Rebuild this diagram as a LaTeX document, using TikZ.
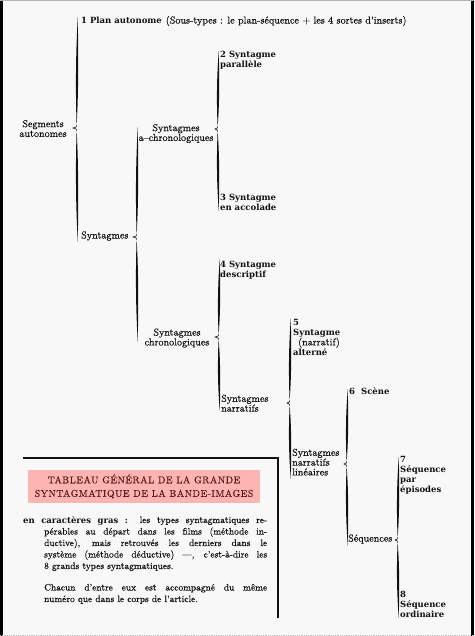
\documentclass[tikz,border=0pt]{standalone}
\usepackage{fontspec}
\usetikzlibrary{calc}
\setmainfont{lmroman10-regular.otf}[FakeBold=0.35]
\newfontfamily\slabf{DejaVu Serif}
\definecolor{bgc}{HTML}{F8F8F8}
\definecolor{pinkc}{HTML}{FFB4B4}
\definecolor{titlec}{HTML}{5A1A1A}
\definecolor{inkc}{HTML}{111111}
\newcommand\regtxt{\rmfamily\mdseries\fontsize{10.1}{9.8}\selectfont}
\newcommand\hdtxt{\slabf\bfseries\fontsize{8.5}{10}\selectfont}
\newcommand\engbrace[3]{%
 \fill[inkc] let \p1=(#1), \p2=(#2), \p3=(#3),
   \p4=([yshift=2.5pt]#2), \p5=([yshift=-2.5pt]#2) in
   ({\x1+0.8pt},\y1) .. controls ({\x1-1.4pt},{\y1+0.35*(\y4-(\y1))}) and ({\x1-1.4pt},{\y1+0.7*(\y4-(\y1))}) .. ({\x1-0.4pt},\y4)
   .. controls ({\x1+1.6pt},{\y1+0.7*(\y4-(\y1))}) and ({\x1+1.3pt},{\y1+0.35*(\y4-(\y1))}) .. ({\x1+0.8pt},\y1) -- cycle
   ({\x1-0.4pt},\y5) .. controls ({\x1-1.4pt},{\y5+0.3*(\y3-(\y5))}) and ({\x1-1.4pt},{\y5+0.65*(\y3-(\y5))}) .. ({\x1+0.8pt},\y3)
   .. controls ({\x1+1.3pt},{\y5+0.65*(\y3-(\y5))}) and ({\x1+1.6pt},{\y5+0.3*(\y3-(\y5))}) .. ({\x1-0.4pt},\y5) -- cycle;
 \draw[inkc,line width=0.6pt] let \p1=(#1), \p2=(#2), \p4=([yshift=2.5pt]#2), \p5=([yshift=-2.5pt]#2) in
   ({\x1-0.4pt},\y4) .. controls ({\x1-0.4pt},{\y2+1pt}) .. (\x2,\y2) .. controls ({\x1-0.4pt},{\y2-1pt}) .. ({\x1-0.4pt},\y5);
}
\tikzset{
  reg/.style={inner sep=0pt, text=inkc, font=\regtxt, align=left},
  regc/.style={reg, align=center},
  hd/.style={inner sep=0pt, text=inkc, font=\hdtxt, align=left},
}
\begin{document}
\begin{tikzpicture}[x=1pt,y=-1pt]
\useasboundingbox (0,0) rectangle (474,636);
\fill[bgc] (0,0) rectangle (474,636);
\fill[black] (0,0) rectangle (2.5,636);
\fill[black] (471,0) rectangle (474,636);
\fill[gray!60] (0,0) rectangle (474,1);
\draw[gray!50,densely dotted,line width=0.8pt] (0,635) -- (474,635);

% brace coordinates
\coordinate (b1t) at (77,17);  \coordinate (b1m) at (73,128); \coordinate (b1b) at (77,242);
\coordinate (b2t) at (137,127); \coordinate (b2m) at (133,237); \coordinate (b2b) at (137,342);
\coordinate (b3t) at (218,51); \coordinate (b3m) at (215,129); \coordinate (b3b) at (218,211);
\coordinate (b4t) at (219,259); \coordinate (b4m) at (215,337); \coordinate (b4b) at (219,411);
\coordinate (b5t) at (290,318); \coordinate (b5m) at (287,403); \coordinate (b5b) at (290,479);
\coordinate (b6t) at (347,389); \coordinate (b6m) at (344,464); \coordinate (b6b) at (347,546);
\coordinate (b7t) at (398,457); \coordinate (b7m) at (395,540); \coordinate (b7b) at (398,618);

% labels
\node[regc] (segauto) at (43,128.5) {Segments\\autonomes};
\node[hd, anchor=west] (plan1) at (81,21) {1 Plan autonome {\regtxt\hspace{1pt}(Sous-types : le plan-séquence + les 4 sortes d’inserts)}};
\node[reg, anchor=west] (synt) at (81,236) {Syntagmes};
\node[regc] (achrono) at (176,133.5) {Syntagmes\\a–chronologiques};
\node[regc] (chrono) at (177,338) {Syntagmes\\chronologiques};
\node[hd, anchor=north west] (s2) at (220,51) {2 Syntagme\\parallèle};
\node[hd, anchor=north west] (s3) at (220,194) {3 Syntagme\\en accolade};
\node[hd, anchor=north west] (s4) at (220,261) {4 Syntagme\\descriptif};
\node[reg, anchor=north west] (snarr) at (221,394.5) {Syntagmes\\narratifs};
\node[hd, anchor=north west] (s5) at (293,319) {5\\Syntagme\\\hspace*{5pt}{\regtxt (narratif)}\\alterné};
\node[reg, anchor=north west] (snlin) at (292,448.5) {Syntagmes\\narratifs\\linéaires};
\node[hd, anchor=west] (s6) at (349,391) {6\hspace{6pt}Scène};
\node[reg, anchor=west] (seq) at (348,539) {Séquences};
\node[hd, anchor=north west] (s7) at (400,456) {7\\Séquence\\par\\épisodes};
\node[hd, anchor=north west] (s8) at (400,591) {8\\Séquence\\ordinaire};

% braces (parent tip -> children ends)
\engbrace{b1t}{b1m}{b1b}
\engbrace{b2t}{b2m}{b2b}
\engbrace{b3t}{b3m}{b3b}
\engbrace{b4t}{b4m}{b4b}
\engbrace{b5t}{b5m}{b5b}
\engbrace{b6t}{b6m}{b6b}
\engbrace{b7t}{b7m}{b7b}

% legend frame
\coordinate (fA) at (23,458); \coordinate (fB) at (278,458); \coordinate (fC) at (278,618);
\draw[inkc, line width=1.7pt] (fA) -- (fB) -- (fC);
\node[fill=pinkc, minimum width=232pt, minimum height=33pt, inner sep=0pt,
      text=titlec, align=center, font=\rmfamily\fontsize{9.8}{13.5}\selectfont\addfontfeature{LetterSpace=5}] (title) at (144,486.5)
  {TABLEAU GÉNÉRAL DE LA GRANDE\\SYNTAGMATIQUE DE LA BANDE-IMAGES};
\node[inner sep=0pt, anchor=north west, text=inkc] (legend) at (23,516)
  {\parbox[t]{244pt}{\rmfamily\fontsize{9.4}{11.5}\selectfont\parindent=0pt\hyphenpenalty=10000
   \hangindent=21pt\hangafter=1
   {\hdtxt en caractères gras :} les types syntagmatiques re-\linebreak
   pérables au départ dans les films (méthode in-\linebreak
   ductive), mais retrouvés les derniers dans le\linebreak
   système (méthode déductive) —, c’est-à-dire les\linebreak
   8 grands types syntagmatiques.\par
   \vspace{10pt}\leftskip=21pt
   Chacun d’entre eux est accompagné du même\linebreak
   numéro que dans le corps de l’article.\par}};
\end{tikzpicture}
\end{document}
